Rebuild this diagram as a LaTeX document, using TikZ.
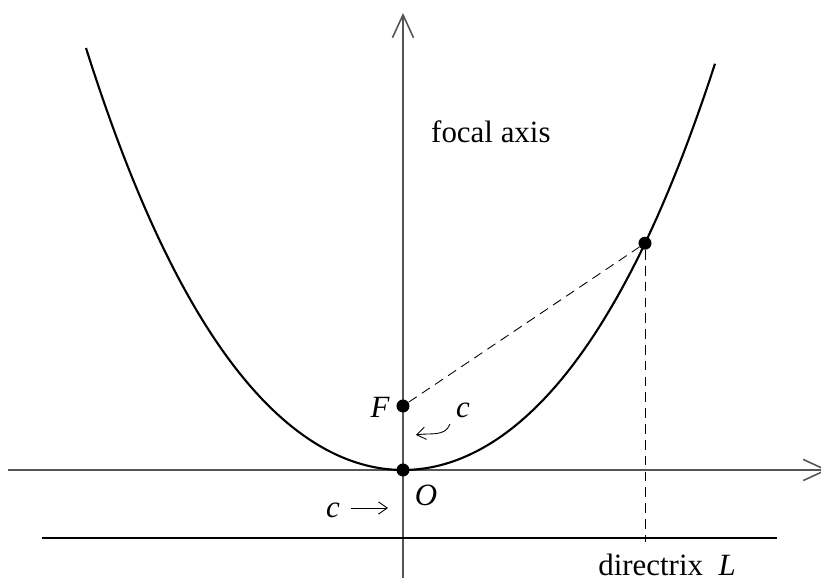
\documentclass[tikz,border=0pt]{standalone}
\usepackage{fontspec}
\setmainfont{Liberation Serif}
\usetikzlibrary{arrows.meta,positioning}
\definecolor{axisgray}{HTML}{555555}
\tikzset{>={Straight Barb[length=13pt,width=12pt]},
  every node/.style={font=\fontsize{17.6}{21}\selectfont},
  axis/.style={->,draw=axisgray,line width=.9pt},
  guide/.style={draw=black,dash pattern=on 5.5pt off 3.5pt,line width=.5pt},
  curve/.style={draw=black,line width=1.2pt},
  marker/.style={circle,fill=black,inner sep=0pt,minimum size=7.4pt},
  smallarrow/.style={-{Straight Barb[length=5pt,width=7pt]},line width=.5pt}}
\begin{document}
\begin{tikzpicture}
\useasboundingbox (-8.06,-2.18) rectangle (8.36,9.4);
\coordinate (O) at (0,0);
\draw[axis] (-7.9,0)--(8.5,0);
\draw[axis] (0,-2.16)--(0,9.14);
\draw[line width=.7pt] (-7.22,-1.36)--(7.48,-1.36);
\draw[curve] plot[domain=-6.34:6.24,samples=120] (\x,{0.1707*\x*\x+0.000976*\x*\x*\x*\x});
\node[marker] (F) at (0,1.28) {};
\node[marker] (V) at (O) {};
\node[marker] (P) at (4.84,4.535) {};
\coordinate (D) at (4.84,-1.44);
\draw[guide] (F)--(P);
\draw[guide] (P)--(D);
\node (Flabel) at (-0.46,1.26) {\itshape F};
\node (Olabel) at (0.46,-0.5) {\itshape O};
\node (ctop) at (1.2,1.19) {\itshape c};
\coordinate (ctopend) at (0.26,0.7);
\draw[smallarrow] (ctop.south west) to[out=-110,in=10] (ctopend);
\node (cbot) at (-1.4,-0.8) {\itshape c};
\coordinate (cbotend) at (-0.3,-0.76);
\draw[smallarrow] (cbot.east |- cbotend) ++(0.1,0) coordinate (cbotstart) (cbotstart)--(cbotend);
\node[anchor=west] (focal) at (0.44,6.76) {focal axis};
\node[inner sep=1pt] (dirlabel) at (5.28,-1.9) {directrix\ \ {\itshape L}};
\end{tikzpicture}
\end{document}
